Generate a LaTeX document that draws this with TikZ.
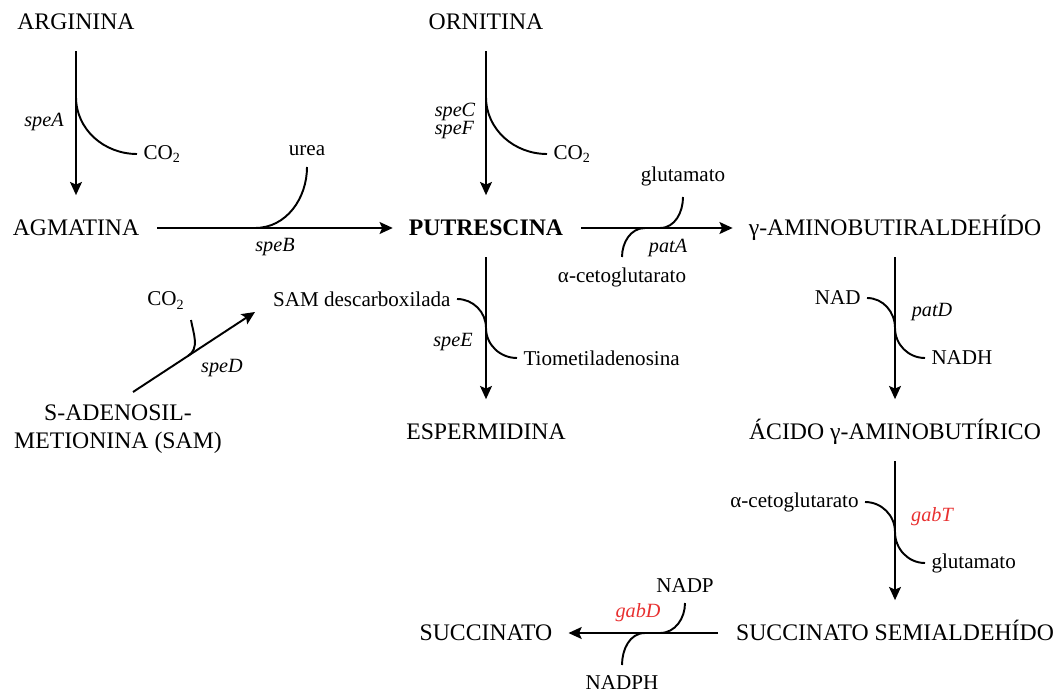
\documentclass[tikz,border=0pt]{standalone}
\usepackage{fontspec}
\setmainfont{Liberation Serif}
\usetikzlibrary{arrows.meta}
\definecolor{genered}{RGB}{232,48,48}
\tikzset{
        % Metabolites of the pathway
        metab/.style={font=\fontsize{13.5}{16}\selectfont, inner sep=0pt, text height=9pt, text depth=0pt},
        % Metabolite written on two lines
        metab_two/.style={font=\fontsize{13.5}{16}\selectfont, inner sep=0pt, align=center},
        % Cofactors and side products
        cofactor/.style={font=\fontsize{12}{14}\selectfont, inner xsep=3.5pt, inner ysep=6pt},
        % Genes of the enzymes
        gene/.style={font=\fontsize{11.5}{10.5}\selectfont\itshape, inner sep=0pt},
        gene_red/.style={gene, text=genered},
        % Reaction arrows
        reaction/.style={-{Stealth[length=7.5pt,width=6.8pt,inset=1.5pt]}, line width=1.1pt},
        reaction_v/.style={reaction, shorten <=12pt, shorten >=14pt},
        reaction_h/.style={reaction, shorten <=10pt, shorten >=9pt},
        % Side branches
        branch/.style={line width=1.1pt}
}
\begin{document}
\begin{tikzpicture}[x=0.02cm, y=-0.02cm]
            \useasboundingbox (0,0) rectangle (1060,695);
            % metabolites
            \node[metab] (arginina) at (76,22) {ARGININA};
            \node[metab] (agmatina) at (76,228) {AGMATINA};
            \node[metab] (ornitina) at (486,22) {ORNITINA};
            \node[metab] (putrescina) at (486,228) {\textbf{PUTRESCINA}};
            \node[metab] (gaba_ald) at (895,228) {γ-AMINOBUTIRALDEHÍDO};
            \node[metab_two] (sam) at (118,429) {S-ADENOSIL-\\METIONINA (SAM)};
            \node[metab] (espermidina) at (486,432) {ESPERMIDINA};
            \node[metab] (gaba) at (895,432) {ÁCIDO γ-AMINOBUTÍRICO};
            \node[metab] (succinato) at (486,633) {SUCCINATO};
            \node[metab] (ssa) at (895,633) {SUCCINATO SEMIALDEHÍDO};

            % main reactions
            \draw[reaction_v] (arginina) -- (agmatina);
            \draw[reaction_v] (ornitina) -- (putrescina);
            \draw[reaction_v] (putrescina) -- (espermidina);
            \draw[reaction_v] (gaba_ald) -- (gaba);
            \draw[reaction_v] (gaba) -- (ssa);
            \draw[reaction_h] (agmatina) -- (putrescina);
            \draw[reaction_h] (putrescina) -- (gaba_ald);
            \draw[reaction_h] (ssa) -- (succinato);
            \coordinate (sam_out) at (133,392);
            \coordinate (samd_in) at (255,312);
            \draw[reaction] (sam_out) -- (samd_in);

            % speA
            \coordinate (j_speA) at (76,97);
            \node[cofactor, anchor=west] (co2_a) at (137,154) {CO\textsubscript{2}};
            \draw[branch] (j_speA) to[out=-90,in=180] (co2_a.west);
            \node[gene] (speA) at (44,122) {speA};

            % speB
            \coordinate (j_speB) at (255,228);
            \node[cofactor, anchor=south] (urea) at (307,167) {urea};
            \draw[branch] (j_speB) to[out=0,in=-90] (urea.south);
            \node[gene] (speB) at (275,247) {speB};

            % speC, speF
            \coordinate (j_speC) at (486,97);
            \node[cofactor, anchor=west] (co2_b) at (547,154) {CO\textsubscript{2}};
            \draw[branch] (j_speC) to[out=-90,in=180] (co2_b.west);
            \node[gene, align=left] (speCF) at (455,121) {speC\\speF};

            % patA
            \coordinate (j_patA_in) at (645,228);
            \coordinate (j_patA_out) at (660,228);
            \node[cofactor, anchor=south] (glu_a) at (683,197) {glutamato};
            \node[cofactor, anchor=north] (akg_a) at (622,257) {α-cetoglutarato};
            \draw[branch] (j_patA_out) to[out=0,in=-90] (glu_a.south);
            \draw[branch] (j_patA_in) to[out=180,in=90] (akg_a.north);
            \node[gene] (patA) at (668,248) {patA};

            % patD
            \node[cofactor, anchor=east] (nad) at (867,298) {NAD};
            \node[cofactor, anchor=west] (nadh) at (925,358) {NADH};
            \coordinate (j_patD) at (895,328);
            \draw[branch] (nad.east) to[out=0,in=90] (j_patD) to[out=-90,in=180] (nadh.west);
            \node[gene] (patD) at (932,312) {patD};

            % speE
            \node[cofactor, anchor=east] (samd) at (457,299) {SAM descarboxilada};
            \node[cofactor, anchor=west] (tio) at (517,358) {Tiometiladenosina};
            \coordinate (j_speE) at (486,328);
            \draw[branch] (samd.east) to[out=0,in=90] (j_speE) to[out=-90,in=180] (tio.west);
            \node[gene] (speE) at (453,342) {speE};

            % speD
            \coordinate (j_speD) at (188,356);
            \node[cofactor, anchor=south east] (co2_c) at (191,320) {CO\textsubscript{2}};
            \draw[branch] (co2_c.south east) to[out=-80,in=33] (j_speD);
            \node[gene] (speD) at (222,368) {speD};

            % gabT
            \node[cofactor, anchor=east] (akg_b) at (865,502) {α-cetoglutarato};
            \node[cofactor, anchor=west] (glu_b) at (925,563) {glutamato};
            \coordinate (j_gabT) at (895,532);
            \draw[branch] (akg_b.east) to[out=0,in=90] (j_gabT) to[out=-90,in=180] (glu_b.west);
            \node[gene_red] (gabT) at (932,517) {gabT};

            % gabD
            \coordinate (j_gabD_out) at (660,633);
            \coordinate (j_gabD_in) at (645,633);
            \node[cofactor, anchor=south] (nadp) at (685,603) {NADP};
            \node[cofactor, anchor=north] (nadph) at (622,665) {NADPH};
            \draw[branch] (j_gabD_out) to[out=0,in=-90] (nadp.south);
            \draw[branch] (j_gabD_in) to[out=180,in=90] (nadph.north);
            \node[gene_red] (gabD) at (638,613) {gabD};
\end{tikzpicture}
\end{document}
